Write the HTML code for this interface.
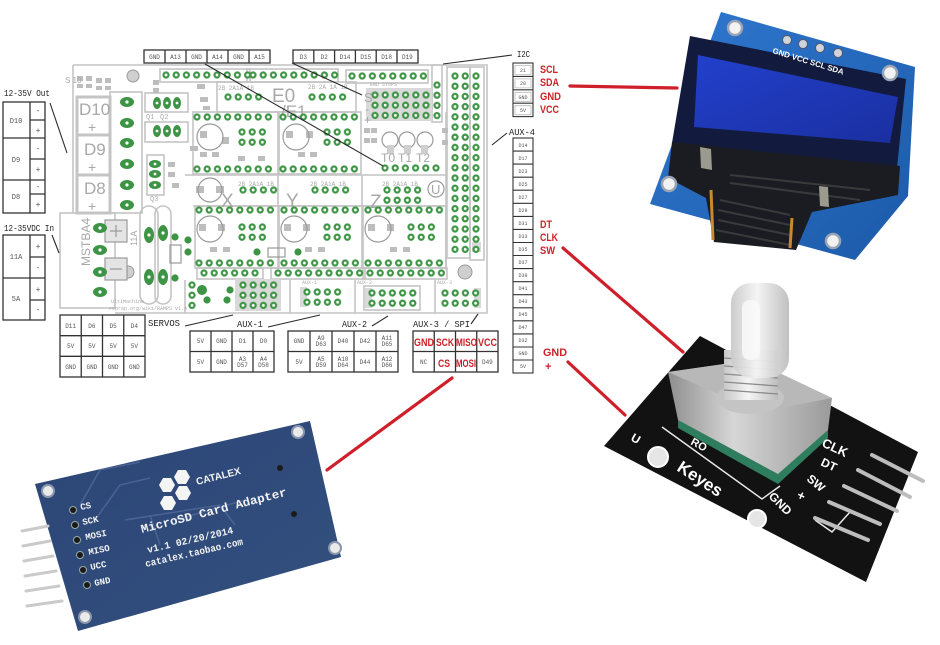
<!DOCTYPE html>
<html><head><meta charset="utf-8"><style>
html,body{margin:0;padding:0;background:#fff;}
svg{display:block}
.t{font-family:"Liberation Mono",monospace;fill:#555;font-size:6px;text-anchor:middle}
.lb{font-family:"Liberation Mono",monospace;fill:#222;font-size:9px}
.r{font-family:"Liberation Sans",sans-serif;font-weight:bold;fill:#cc2229;font-size:11px}
.g{font-family:"Liberation Sans",sans-serif;fill:#a8a8a8}
.s{font-family:"Liberation Mono",monospace;fill:#aaa;font-size:6px}
.w{font-family:"Liberation Sans",sans-serif;fill:#fff;font-weight:bold}
.wm{font-family:"Liberation Mono",monospace;fill:#f2f2f2;font-weight:bold}
</style></head><body>
<svg width="940" height="645" viewBox="0 0 940 645" xmlns="http://www.w3.org/2000/svg">
<defs>
<pattern id="p" width="10.2" height="10.2" patternUnits="userSpaceOnUse">
<circle cx="5.1" cy="5.1" r="3.6" fill="#3d9444"/><circle cx="5.1" cy="5.1" r="1.4" fill="#fff"/>
</pattern>
<linearGradient id="oled" x1="0" y1="0" x2="1" y2="1"><stop offset="0" stop-color="#2f78d0"/><stop offset="1" stop-color="#1c5aa8"/></linearGradient>
<linearGradient id="scr" x1="0" y1="0" x2="1" y2="1"><stop offset="0" stop-color="#2240cc"/><stop offset="1" stop-color="#1a2fa0"/></linearGradient>
<linearGradient id="sd" x1="0" y1="0" x2="1" y2="1"><stop offset="0" stop-color="#2c4676"/><stop offset="1" stop-color="#33507f"/></linearGradient>
<linearGradient id="met" x1="0" y1="0" x2="1" y2="0"><stop offset="0" stop-color="#8e8e8e"/><stop offset=".4" stop-color="#d6d6d6"/><stop offset="1" stop-color="#9a9a9a"/></linearGradient>
<linearGradient id="shaft" x1="0" y1="0" x2="1" y2="0"><stop offset="0" stop-color="#c9c9c9"/><stop offset=".45" stop-color="#f4f4f4"/><stop offset="1" stop-color="#bdbdbd"/></linearGradient>
</defs>
<rect width="940" height="645" fill="#fff"/>

<!-- ============ RAMPS BOARD ============ -->
<g fill="none" stroke="#c4c4c4" stroke-width="1.6">
<path d="M73,65 H487 V313 H115"/>
<path d="M73,65 V213"/>
<rect x="60" y="213" width="55" height="95"/>
<rect x="77" y="97" width="33" height="116" stroke-width="3"/>
<line x1="77" y1="135" x2="110" y2="135" stroke-width="3"/>
<line x1="77" y1="175" x2="110" y2="175" stroke-width="3"/>
<rect x="110" y="92" width="32" height="121"/>
<rect x="145" y="93" width="43" height="19"/>
<rect x="145" y="122" width="43" height="20"/>
<rect x="147" y="155" width="17" height="40"/>
<rect x="160" y="69" width="90" height="13"/>
<rect x="247" y="69" width="91" height="13"/>
<rect x="346" y="70" width="82" height="13"/>
<rect x="217" y="82" width="139" height="30"/>
<rect x="193" y="112" width="85" height="62"/>
<rect x="279" y="112" width="82" height="62"/>
<path d="M185,175 H446 M193,206 H446 M278,175 V206 M362,175 V206 M446,112 V270"/>
<rect x="195" y="206" width="83" height="62"/>
<rect x="279" y="206" width="83" height="62"/>
<rect x="363" y="206" width="83" height="62"/>
<rect x="197" y="268" width="66" height="11"/>
<rect x="271" y="268" width="94" height="11"/>
<rect x="363" y="268" width="84" height="11"/>
<rect x="447" y="67" width="23" height="191"/>
<rect x="470" y="67" width="14" height="193"/>
<rect x="432" y="65" width="10" height="57"/>
<path d="M185,280 V313 M290,280 V313 M355,280 V313 M435,280 V313"/>
<rect x="364" y="286" width="56" height="24"/>
<rect x="140" y="206" width="18" height="98" rx="9"/>
<rect x="155" y="206" width="16" height="98" rx="8"/>
</g>
<g fill="#d9d9d9">
<rect x="366" y="88" width="66" height="33"/>
<rect x="235" y="279" width="46" height="32"/>
<rect x="300" y="287" width="7" height="20"/>
<rect x="365" y="288" width="7" height="20"/>
<rect x="474" y="288" width="7" height="20"/>
<rect x="472" y="242" width="9" height="10"/>
</g>
<g fill="#cfcfcf" stroke="#999" stroke-width="1">
<circle cx="133" cy="76" r="6"/>
<circle cx="465" cy="272" r="7"/>
<circle cx="128" cy="272" r="6"/>
</g>
<g fill="#bdbdbd">
<rect x="77" y="76" width="6" height="5"/><rect x="86" y="76" width="6" height="5"/><rect x="96" y="78" width="6" height="5"/><rect x="105" y="78" width="6" height="5"/>
<rect x="77" y="84" width="6" height="4"/><rect x="86" y="84" width="6" height="4"/><rect x="96" y="86" width="6" height="4"/><rect x="105" y="86" width="6" height="4"/>
<rect x="153" y="80" width="6" height="5"/><rect x="153" y="88" width="6" height="5"/>
<rect x="197" y="84" width="8" height="5"/><rect x="200" y="97" width="8" height="5"/><rect x="203" y="106" width="7" height="4"/>
<rect x="190" y="146" width="8" height="5"/><rect x="168" y="162" width="7" height="5"/><rect x="168" y="172" width="7" height="5"/><rect x="172" y="183" width="7" height="5"/>
<rect x="200" y="152" width="7" height="5"/><rect x="212" y="152" width="7" height="5"/><rect x="238" y="156" width="7" height="5"/><rect x="258" y="156" width="7" height="5"/>
<rect x="298" y="152" width="7" height="5"/><rect x="310" y="152" width="7" height="5"/>
<rect x="364" y="128" width="6" height="5"/><rect x="364" y="138" width="6" height="5"/><rect x="371" y="128" width="6" height="5"/><rect x="371" y="138" width="6" height="5"/>
<rect x="442" y="128" width="6" height="5"/><rect x="442" y="140" width="6" height="5"/>
<rect x="210" y="247" width="7" height="5"/><rect x="223" y="247" width="7" height="5"/><rect x="305" y="247" width="7" height="5"/><rect x="318" y="247" width="7" height="5"/><rect x="390" y="247" width="7" height="5"/><rect x="403" y="247" width="7" height="5"/>
<rect x="222" y="137" width="7" height="7"/><rect x="200" y="131" width="7" height="7"/>
<rect x="286" y="131" width="7" height="7"/><rect x="306" y="131" width="7" height="7"/>
<rect x="199" y="224" width="7" height="7"/><rect x="218" y="224" width="7" height="7"/>
<rect x="284" y="224" width="7" height="7"/><rect x="303" y="224" width="7" height="7"/>
<rect x="368" y="224" width="7" height="7"/><rect x="387" y="224" width="7" height="7"/>
<rect x="196" y="186" width="8" height="7"/><rect x="216" y="186" width="8" height="7"/>
</g>
<g fill="none" stroke="#9a9a9a" stroke-width="1.2">
<circle cx="210" cy="137" r="13"/><circle cx="296" cy="137" r="13"/>
<circle cx="210" cy="190" r="12"/>
<circle cx="210" cy="229" r="13"/><circle cx="294" cy="229" r="13"/><circle cx="378" cy="229" r="13"/>
<circle cx="390" cy="140" r="8"/><circle cx="407" cy="140" r="8"/><circle cx="425" cy="140" r="8"/>
<circle cx="436" cy="189" r="8"/>
<rect x="105" y="220" width="22" height="22" fill="#e4e4e4"/><rect x="105" y="258" width="22" height="22" fill="#e4e4e4"/>
<path d="M110,231 H122 M116,225 V237 M110,269 H122"/>
<rect x="170" y="245" width="11" height="18"/>
<rect x="268" y="248" width="17" height="9"/>
</g>
<g fill="#cfcfcf"><rect x="387" y="145" width="7" height="9"/><rect x="404" y="145" width="7" height="9"/><rect x="421" y="145" width="7" height="9"/></g>

<g class="g">
<text x="79" y="115" font-size="17">D10</text>
<text x="88" y="132" font-size="14">+</text>
<text x="84" y="155" font-size="17">D9</text>
<text x="88" y="172" font-size="14">+</text>
<text x="84" y="194" font-size="17">D8</text>
<text x="88" y="211" font-size="14">+</text>
<text x="272" y="102" font-size="19">E0</text>
<text x="281" y="117" font-size="17">/E1</text>
<text x="221" y="207" font-size="19">X</text>
<text x="286" y="207" font-size="19">Y</text>
<text x="370" y="208" font-size="19">Z</text>
<text x="431" y="194" font-size="13">U</text>
<text x="364" y="102" font-size="13">S</text>
<text x="365" y="113" font-size="12">-</text>
<text x="364" y="124" font-size="12">+</text>
<text x="381" y="162" font-size="12">T0</text>
<text x="398" y="162" font-size="12">T1</text>
<text x="416" y="162" font-size="12">T2</text>
<text transform="translate(90,266) rotate(-90)" font-size="12">MSTBA4</text>
<text transform="translate(137,246) rotate(-90)" font-size="9">11A</text>
<text x="65" y="83" font-size="8">S 10</text>
</g>
<g class="s">
<text x="218" y="90">2B 2A1A 1B</text>
<text x="308" y="89">2B 2A 1A 1B</text>
<text x="238" y="186">2B 2A1A 1B</text>
<text x="310" y="186">2B 2A1A 1B</text>
<text x="382" y="186">2B 2A1A 1B</text>
<text x="370" y="86" font-size="5">END STOPS</text>
<text x="111" y="303" font-size="5">UltiMachine</text>
<text x="109" y="310" font-size="5">reprap.org/wiki/RAMPS v1.4</text>
<text x="146" y="119" font-size="7">Q1</text>
<text x="160" y="119" font-size="7">Q2</text>
<text x="150" y="201" font-size="7">Q3</text>
<text x="302" y="284" font-size="5">AUX-1</text>
<text x="357" y="284" font-size="5">AUX-2</text>
<text x="437" y="284" font-size="5">AUX-3</text>
</g>

<g fill="#3d9444">
<ellipse cx="127" cy="102" rx="7" ry="5"/><ellipse cx="127" cy="123" rx="7" ry="5"/><ellipse cx="127" cy="143" rx="7" ry="5"/>
<ellipse cx="127" cy="164" rx="7" ry="5"/><ellipse cx="127" cy="185" rx="7" ry="5"/><ellipse cx="127" cy="205" rx="7" ry="5"/>
<ellipse cx="157" cy="103" rx="4" ry="6"/><ellipse cx="167" cy="103" rx="4" ry="6"/><ellipse cx="177" cy="103" rx="4" ry="6"/>
<ellipse cx="157" cy="131" rx="4" ry="6"/><ellipse cx="167" cy="131" rx="4" ry="6"/><ellipse cx="177" cy="131" rx="4" ry="6"/>
<ellipse cx="155" cy="164" rx="6" ry="4"/><ellipse cx="155" cy="174" rx="6" ry="4"/><ellipse cx="155" cy="185" rx="6" ry="4"/>
<ellipse cx="100" cy="228" rx="7" ry="5"/><ellipse cx="100" cy="250" rx="7" ry="5"/><ellipse cx="100" cy="272" rx="7" ry="5"/><ellipse cx="100" cy="292" rx="7" ry="5"/>
<ellipse cx="149" cy="235" rx="5" ry="8"/><ellipse cx="149" cy="277" rx="5" ry="8"/><ellipse cx="163" cy="233" rx="5" ry="8"/><ellipse cx="163" cy="277" rx="5" ry="8"/>
<circle cx="175" cy="237" r="3.6"/><circle cx="188" cy="240" r="3.6"/><circle cx="188" cy="252" r="3.6"/><circle cx="175" cy="278" r="3.6"/>
<circle cx="257" cy="252" r="3.6"/><circle cx="298" cy="252" r="3.6"/>
<circle cx="202" cy="290" r="5"/><circle cx="230" cy="290" r="3.6"/><circle cx="207" cy="300" r="3.6"/><circle cx="227" cy="300" r="3.6"/>
</g>
<g fill="#fff">
<circle cx="127" cy="102" r="1.6"/><circle cx="127" cy="123" r="1.6"/><circle cx="127" cy="143" r="1.6"/><circle cx="127" cy="164" r="1.6"/><circle cx="127" cy="185" r="1.6"/><circle cx="127" cy="205" r="1.6"/>
<circle cx="100" cy="228" r="1.6"/><circle cx="100" cy="250" r="1.6"/><circle cx="100" cy="272" r="1.6"/><circle cx="100" cy="292" r="1.6"/>
<circle cx="149" cy="235" r="1.6"/><circle cx="149" cy="277" r="1.6"/><circle cx="163" cy="233" r="1.6"/><circle cx="163" cy="277" r="1.6"/>
<circle cx="157" cy="103" r="1.4"/><circle cx="167" cy="103" r="1.4"/><circle cx="177" cy="103" r="1.4"/>
<circle cx="157" cy="131" r="1.4"/><circle cx="167" cy="131" r="1.4"/><circle cx="177" cy="131" r="1.4"/>
<circle cx="155" cy="164" r="1.4"/><circle cx="155" cy="174" r="1.4"/><circle cx="155" cy="185" r="1.4"/>
</g>

<g fill="url(#p)">
<rect transform="translate(160.9,69.9)" width="91.8" height="10.2"/>
<rect transform="translate(247.9,69.9)" width="91.8" height="10.2"/>
<rect transform="translate(346.9,70.9)" width="81.6" height="10.2"/>
<rect transform="translate(369.9,89.9)" width="61.2" height="30.6"/>
<rect transform="translate(431.9,79.9)" width="10.2" height="40.8"/>
<rect transform="translate(449.9,70.9)" width="20.4" height="183.6"/>
<rect transform="translate(470.9,70.9)" width="10.2" height="183.6"/>
<rect transform="translate(222.9,91.9)" width="40.8" height="10.2"/>
<rect transform="translate(306.9,91.9)" width="40.8" height="10.2"/>
<rect transform="translate(191.9,111.9)" width="81.6" height="10.2"/>
<rect transform="translate(191.9,163.9)" width="81.6" height="10.2"/>
<rect transform="translate(277.9,111.9)" width="81.6" height="10.2"/>
<rect transform="translate(277.9,163.9)" width="81.6" height="10.2"/>
<rect transform="translate(236.9,126.9)" width="30.6" height="20.4"/>
<rect transform="translate(321.9,126.9)" width="30.6" height="20.4"/>
<rect transform="translate(379.9,162.9)" width="61.2" height="10.2"/>
<rect transform="translate(237.9,184.9)" width="40.8" height="10.2"/>
<rect transform="translate(309.9,184.9)" width="40.8" height="10.2"/>
<rect transform="translate(381.9,184.9)" width="40.8" height="20.4"/>
<rect transform="translate(193.9,204.9)" width="81.6" height="10.2"/>
<rect transform="translate(278.9,204.9)" width="81.6" height="10.2"/>
<rect transform="translate(362.9,204.9)" width="81.6" height="10.2"/>
<rect transform="translate(193.9,257.9)" width="81.6" height="10.2"/>
<rect transform="translate(278.9,257.9)" width="81.6" height="10.2"/>
<rect transform="translate(362.9,257.9)" width="81.6" height="10.2"/>
<rect transform="translate(236.9,221.9)" width="30.6" height="20.4"/>
<rect transform="translate(321.9,221.9)" width="30.6" height="20.4"/>
<rect transform="translate(405.9,221.9)" width="30.6" height="20.4"/>
<rect transform="translate(198.9,267.9)" width="61.2" height="10.2"/>
<rect transform="translate(272.9,267.9)" width="91.8" height="10.2"/>
<rect transform="translate(364.9,267.9)" width="81.6" height="10.2"/>
<rect transform="translate(237.9,279.9)" width="40.8" height="30.6"/>
<rect transform="translate(301.9,286.9)" width="40.8" height="20.4"/>
<rect transform="translate(366.9,287.9)" width="51" height="20.4"/>
<rect transform="translate(439.9,287.9)" width="40.8" height="20.4"/>
<rect transform="translate(186.9,279.9)" width="10.2" height="30.6"/>
</g>

<g stroke="#2a2a2a" stroke-width="1.1" fill="none">
<line x1="205" y1="64" x2="383" y2="166"/>
<line x1="292" y1="63" x2="362" y2="95"/>
<line x1="512" y1="55" x2="443" y2="64"/>
<line x1="507" y1="133" x2="492" y2="145"/>
<line x1="50" y1="103" x2="67" y2="153"/>
<line x1="52" y1="235" x2="59" y2="253"/>
<line x1="185" y1="326" x2="233" y2="315"/>
<line x1="268" y1="327" x2="320" y2="315"/>
<line x1="372" y1="326" x2="388" y2="316"/>
<line x1="471" y1="324" x2="478" y2="314"/>
</g>

<g class="lb">
<text x="4" y="96" textLength="46" lengthAdjust="spacingAndGlyphs">12-35V Out</text>
<text x="4" y="231" textLength="50" lengthAdjust="spacingAndGlyphs">12-35VDC In</text>
<text x="148" y="326" textLength="32" lengthAdjust="spacingAndGlyphs">SERVOS</text>
<text x="237" y="327" textLength="26" lengthAdjust="spacingAndGlyphs">AUX-1</text>
<text x="342" y="327" textLength="25" lengthAdjust="spacingAndGlyphs">AUX-2</text>
<text x="413" y="327" textLength="57" lengthAdjust="spacingAndGlyphs">AUX-3 / SPI</text>
<text x="517" y="57" textLength="13" lengthAdjust="spacingAndGlyphs">I2C</text>
<text x="509" y="135" textLength="26" lengthAdjust="spacingAndGlyphs">AUX-4</text>
</g>

<g fill="none" stroke="#333" stroke-width="1.3">
<rect x="144" y="50" width="126" height="13"/><path d="M165,50V63M186,50V63M207,50V63M228,50V63M249,50V63"/>
<rect x="293" y="50" width="125" height="13"/><path d="M313.8,50V63M334.6,50V63M355.4,50V63M376.2,50V63M397,50V63"/>
<rect x="3" y="102" width="42" height="111"/><path d="M30,102V213M3,138H45M3,180H45M30,120H45M30,159H45M30,194H45"/>
<rect x="3" y="235" width="42" height="85"/><path d="M30,235V320M3,278H45M30,257H45M30,300H45"/>
<rect x="60" y="315" width="85" height="62"/><path d="M81.25,315V377M102.5,315V377M123.75,315V377M60,335.7H145M60,356.3H145"/>
<rect x="190" y="331" width="84" height="41"/><path d="M211,331V372M232,331V372M253,331V372M190,351.5H274"/>
<rect x="288" y="331" width="110" height="41"/><path d="M310,331V372M332,331V372M354,331V372M376,331V372M288,351.5H398"/>
<rect x="413" y="331" width="85" height="41"/><path d="M434.25,331V372M455.5,331V372M476.75,331V372M413,351.5H498"/>
</g>
<g fill="none" stroke="#333" stroke-width="1.1">
<rect x="513" y="63" width="20" height="53.6"/><path d="M513,76.4H533M513,89.8H533M513,103.2H533"/>
<rect x="513" y="138" width="20" height="235"/>
<path d="M513,151.1H533M513,164.1H533M513,177.2H533M513,190.2H533M513,203.3H533M513,216.4H533M513,229.4H533M513,242.5H533M513,255.5H533M513,268.6H533M513,281.7H533M513,294.7H533M513,307.8H533M513,320.8H533M513,333.9H533M513,347H533M513,360H533"/>
</g>
<g fill="none" stroke="#bbb" stroke-width=".8">
<path d="M515,65.5h16v9h-16zM515,78.9h16v9h-16zM515,92.3h16v9h-16zM515,105.7h16v9h-16z"/>
</g>
<g class="t">
<text x="154.5" y="59">GND</text><text x="175.5" y="59">A13</text><text x="196.5" y="59">GND</text><text x="217.5" y="59">A14</text><text x="238.5" y="59">GND</text><text x="259.5" y="59">A15</text>
<text x="303.4" y="59">D3</text><text x="324.2" y="59">D2</text><text x="345" y="59">D14</text><text x="365.8" y="59">D15</text><text x="386.6" y="59">D18</text><text x="407.4" y="59">D19</text>
<text x="16" y="123" font-size="7">D10</text><text x="16" y="162" font-size="7">D9</text><text x="16" y="199" font-size="7">D8</text>
<text x="38" y="113" font-size="8">-</text><text x="38" y="133" font-size="8">+</text>
<text x="38" y="151" font-size="8">-</text><text x="38" y="172" font-size="8">+</text>
<text x="38" y="189" font-size="8">-</text><text x="38" y="207" font-size="8">+</text>
<text x="16" y="259" font-size="7">11A</text><text x="16" y="301" font-size="7">5A</text>
<text x="38" y="249" font-size="8">+</text><text x="38" y="270" font-size="8">-</text>
<text x="38" y="292" font-size="8">+</text><text x="38" y="312" font-size="8">-</text>
<text x="70.6" y="328">D11</text><text x="91.9" y="328">D6</text><text x="113.1" y="328">D5</text><text x="134.4" y="328">D4</text>
<text x="70.6" y="348">5V</text><text x="91.9" y="348">5V</text><text x="113.1" y="348">5V</text><text x="134.4" y="348">5V</text>
<text x="70.6" y="369">GND</text><text x="91.9" y="369">GND</text><text x="113.1" y="369">GND</text><text x="134.4" y="369">GND</text>
<text x="200.5" y="343">5V</text><text x="221.5" y="343">GND</text><text x="242.5" y="343">D1</text><text x="263.5" y="343">D0</text>
<text x="200.5" y="364">5V</text><text x="221.5" y="364">GND</text><text x="242.5" y="361">A3</text><text x="242.5" y="367">D57</text><text x="263.5" y="361">A4</text><text x="263.5" y="367">D58</text>
<text x="299" y="343">GND</text><text x="321" y="340">A9</text><text x="321" y="346">D63</text><text x="343" y="343">D40</text><text x="365" y="343">D42</text><text x="387" y="340">A11</text><text x="387" y="346">D65</text>
<text x="299" y="364">5V</text><text x="321" y="361">A5</text><text x="321" y="367">D59</text><text x="343" y="361">A10</text><text x="343" y="367">D64</text><text x="365" y="364">D44</text><text x="387" y="361">A12</text><text x="387" y="367">D66</text>
<text x="423.6" y="364">NC</text><text x="487.4" y="364">D49</text>
<text x="523" y="72" font-size="5">21</text><text x="523" y="85" font-size="5">20</text><text x="523" y="99" font-size="5">GND</text><text x="523" y="112" font-size="5">5V</text>
<text x="523" y="147" font-size="5">D14</text><text x="523" y="160" font-size="5">D17</text><text x="523" y="173" font-size="5">D23</text><text x="523" y="186" font-size="5">D25</text>
<text x="523" y="199" font-size="5">D27</text><text x="523" y="212" font-size="5">D29</text><text x="523" y="225" font-size="5">D31</text><text x="523" y="238" font-size="5">D33</text>
<text x="523" y="251" font-size="5">D35</text><text x="523" y="264" font-size="5">D37</text><text x="523" y="277" font-size="5">D39</text><text x="523" y="290" font-size="5">D41</text>
<text x="523" y="303" font-size="5">D43</text><text x="523" y="316" font-size="5">D45</text><text x="523" y="329" font-size="5">D47</text><text x="523" y="342" font-size="5">D32</text>
<text x="523" y="355" font-size="5">GND</text><text x="523" y="368" font-size="5">5V</text>
</g>
<g class="r">
<text x="540" y="73" textLength="18" lengthAdjust="spacingAndGlyphs">SCL</text>
<text x="540" y="86" textLength="19" lengthAdjust="spacingAndGlyphs">SDA</text>
<text x="540" y="100" textLength="21" lengthAdjust="spacingAndGlyphs">GND</text>
<text x="540" y="113" textLength="19" lengthAdjust="spacingAndGlyphs">VCC</text>
<text x="540" y="228" textLength="12" lengthAdjust="spacingAndGlyphs">DT</text>
<text x="540" y="241" textLength="18" lengthAdjust="spacingAndGlyphs">CLK</text>
<text x="540" y="254" textLength="15" lengthAdjust="spacingAndGlyphs">SW</text>
<text x="543" y="356" textLength="24" lengthAdjust="spacingAndGlyphs">GND</text>
<text x="545" y="370">+</text>
<text x="414" y="346" textLength="20" lengthAdjust="spacingAndGlyphs">GND</text>
<text x="436" y="346" textLength="18" lengthAdjust="spacingAndGlyphs">SCK</text>
<text x="456" y="346" textLength="21" lengthAdjust="spacingAndGlyphs">MISO</text>
<text x="478" y="346" textLength="19" lengthAdjust="spacingAndGlyphs">VCC</text>
<text x="438" y="367" textLength="12" lengthAdjust="spacingAndGlyphs">CS</text>
<text x="456" y="367" textLength="20" lengthAdjust="spacingAndGlyphs">MOSI</text>
</g>

<!-- ============ OLED ============ -->
<polygon points="721,12 915,67 908,196 855,260 650,204" fill="url(#oled)"/>
<polygon points="690,36 906,79 897,168 672,143" fill="#121a3e"/>
<polygon points="698,55 898,97 890,143 694,127" fill="url(#scr)"/>
<polygon points="672,142 900,166 898,195 812,212 796,250 714,242 706,198 668,178" fill="#1b1c22"/>
<g stroke="#3a3a3a" stroke-width="2">
<line x1="720" y1="200" x2="790" y2="215"/><line x1="718" y1="210" x2="790" y2="225"/><line x1="718" y1="220" x2="790" y2="235"/><line x1="716" y1="230" x2="790" y2="245"/>
<line x1="730" y1="175" x2="870" y2="190"/><line x1="730" y1="183" x2="860" y2="200"/>
</g>
<polygon points="700,147 711,149 712,170 701,168" fill="#9a9a8e"/>
<polygon points="819,186 828,187 829,207 820,206" fill="#9a9a8e"/>
<line x1="711" y1="190" x2="713" y2="240" stroke="#c88a2c" stroke-width="3"/>
<line x1="792" y1="218" x2="790" y2="248" stroke="#c88a2c" stroke-width="3"/>
<g fill="#f2f2f2" stroke="#9aa4b4" stroke-width="2.5">
<circle cx="735" cy="28" r="7"/><circle cx="890" cy="73" r="7"/><circle cx="669" cy="184" r="7"/><circle cx="833" cy="241" r="7"/>
</g>
<g fill="#cfd4dc" stroke="#556" stroke-width="1">
<circle cx="787" cy="40" r="4.5"/><circle cx="803" cy="44" r="4.5"/><circle cx="820" cy="48" r="4.5"/><circle cx="838" cy="53" r="4.5"/>
</g>
<text class="w" font-size="8" transform="translate(772,53) rotate(17)">GND VCC SCL SDA</text>

<!-- ============ ENCODER ============ -->
<polygon points="604,446 700,336 918,452 866,582" fill="#121212"/>
<polyline points="662,427 762,499 780,486" fill="none" stroke="#e8e8e8" stroke-width="1.5"/>
<polyline points="815,520 832,532 850,512" fill="none" stroke="#e8e8e8" stroke-width="1.5"/>
<polygon points="678,418 778,472 828,428 828,438 778,484 678,428" fill="#2e7d5e"/>
<polygon points="668,372 752,360 832,398 828,430 778,474 678,420" fill="url(#met)"/>
<polygon points="668,372 752,360 832,398 760,412" fill="#b8b8b8"/>
<ellipse cx="750" cy="398" rx="34" ry="16" fill="#c4c4c4"/>
<rect x="724" y="350" width="54" height="50" fill="url(#shaft)"/>
<g stroke="#8a8a8a" stroke-width="1.3">
<line x1="724" y1="358" x2="778" y2="362"/><line x1="724" y1="366" x2="778" y2="370"/><line x1="724" y1="374" x2="778" y2="378"/><line x1="724" y1="382" x2="778" y2="386"/><line x1="724" y1="390" x2="778" y2="394"/>
</g>
<rect x="731" y="283" width="58" height="95" rx="20" fill="url(#shaft)" opacity=".95"/>
<rect x="742" y="300" width="18" height="60" rx="8" fill="#fafafa" opacity=".8"/>
<g stroke="#bdbdbd" stroke-width="4" stroke-linecap="round">
<line x1="872" y1="455" x2="923" y2="481"/><line x1="858" y1="470" x2="910" y2="497"/><line x1="844" y1="486" x2="897" y2="511"/><line x1="829" y1="502" x2="880" y2="524"/><line x1="815" y1="518" x2="868" y2="540"/>
</g>
<g class="w">
<text font-size="13" transform="translate(821,446) rotate(25)">CLK</text>
<text font-size="12" transform="translate(820,465) rotate(25)">DT</text>
<text font-size="12" transform="translate(806,480) rotate(40)">SW</text>
<text font-size="13" transform="translate(796,498) rotate(25)">+</text>
<text font-size="12" transform="translate(768,497) rotate(45)">GND</text>
<text font-size="17" transform="translate(676,470) rotate(33)">Keyes</text>
<text font-size="12" transform="translate(630,440) rotate(30)">U</text>
<text font-size="11" transform="translate(690,444) rotate(28)">RO</text>
</g>
<g fill="#e6e6e6" stroke="#fff" stroke-width="2">
<circle cx="658" cy="457" r="10"/><circle cx="757" cy="519" r="9"/>
</g>

<!-- ============ MICROSD ============ -->
<polygon points="35,484 310,421 341,557 78,631" fill="url(#sd)"/>
<g stroke="#4a6394" stroke-width="1.5" fill="none">
<polyline points="80,505 100,470 140,462"/><polyline points="95,520 120,485 150,478"/>
<polyline points="125,520 220,505 235,525"/><polyline points="150,515 160,545"/>
<polyline points="175,520 245,500"/>
</g>
<g stroke="#cacaca" stroke-width="3" stroke-linecap="round">
<line x1="22" y1="531" x2="48" y2="526"/><line x1="23" y1="546" x2="50" y2="541"/><line x1="24" y1="561" x2="53" y2="556"/>
<line x1="25" y1="576" x2="56" y2="571"/><line x1="26" y1="591" x2="59" y2="586"/><line x1="27" y1="606" x2="62" y2="601"/>
</g>
<g fill="#eaeaea" stroke="#8a96ac" stroke-width="2">
<circle cx="48" cy="491" r="6"/><circle cx="298" cy="432" r="6"/><circle cx="335" cy="548" r="6"/><circle cx="85" cy="617" r="6"/>
</g>
<g fill="#1a1a1a" stroke="#9aa" stroke-width="1">
<circle cx="73" cy="510" r="3.5"/><circle cx="75" cy="525" r="3.5"/><circle cx="77" cy="540" r="3.5"/><circle cx="80" cy="555" r="3.5"/><circle cx="83" cy="570" r="3.5"/><circle cx="87" cy="585" r="3.5"/>
</g>
<g fill="#1b1b1b"><circle cx="280" cy="468" r="3"/><circle cx="294" cy="514" r="3"/></g>
<g fill="#f4f4f4">
<polygon points="175,485 171,492 163,492 159,485 163,478 171,478"/>
<polygon points="190,477 186,484 178,484 174,477 178,470 186,470"/>
<polygon points="191,493 187,500 179,500 175,493 179,486 187,486"/>
<polygon points="176,503 172,510 164,510 160,503 164,496 172,496"/>
</g>
<g class="wm">
<text font-size="9" transform="translate(81,510) rotate(-12)">CS</text>
<text font-size="9" transform="translate(83,525) rotate(-12)">SCK</text>
<text font-size="9" transform="translate(86,540) rotate(-12)">MOSI</text>
<text font-size="9" transform="translate(89,555) rotate(-12)">MISO</text>
<text font-size="9" transform="translate(91,570) rotate(-12)">UCC</text>
<text font-size="9" transform="translate(95,586) rotate(-12)">GND</text>
<text font-size="10" font-family="Liberation Sans" transform="translate(197,485) rotate(-14)">CATALEX</text>
<text font-size="12" textLength="150" lengthAdjust="spacingAndGlyphs" transform="translate(142,533) rotate(-14.5)">MicroSD Card Adapter</text>
<text font-size="10" textLength="88" lengthAdjust="spacingAndGlyphs" transform="translate(148,553) rotate(-13)">v1.1 02/20/2014</text>
<text font-size="10" textLength="100" lengthAdjust="spacingAndGlyphs" transform="translate(146,567) rotate(-13)">catalex.taobao.com</text>
</g>

<!-- ============ RED CONNECTORS ============ -->
<g stroke="#cf1f2a" stroke-width="3.2" stroke-linecap="round">
<line x1="570" y1="86" x2="677" y2="88"/>
<line x1="563" y1="248" x2="683" y2="352"/>
<line x1="568" y1="362" x2="625" y2="415"/>
<line x1="452" y1="378" x2="327" y2="470"/>
</g>
</svg>
</body></html>
